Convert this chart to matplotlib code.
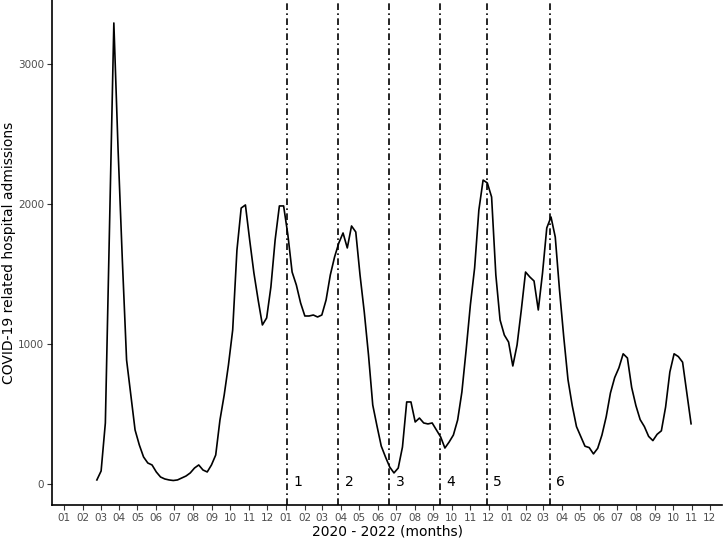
import pandas as pd
import numpy as np
import matplotlib.pyplot as plt
import matplotlib.dates as mdates

# weekly admissions, first week starting 2020-02-24
start_week = '2020-02-24'
admissions = [29, 93, 436, 1864, 3293, 2386, 1600, 886, 636, 386,
              279, 193, 150, 136, 86, 50, 36, 29, 25, 29,
              43, 57, 79, 114, 136, 100, 86, 136, 207, 457,
              636, 850, 1100, 1670, 1971, 1993, 1743, 1507, 1314, 1136,
              1186, 1407, 1743, 1986, 1986, 1780, 1514, 1421, 1293, 1200,
              1200, 1207, 1193, 1207, 1314, 1493, 1621, 1721, 1793, 1686,
              1843, 1800, 1493, 1229, 921, 564, 414, 271, 193, 121,
              79, 114, 264, 586, 586, 443, 471, 436, 429, 436,
              386, 336, 257, 300, 350, 457, 657, 957, 1279, 1543,
              1957, 2171, 2150, 2050, 1493, 1171, 1064, 1014, 843, 993,
              1243, 1514, 1479, 1450, 1243, 1507, 1829, 1907, 1764, 1386,
              1050, 745, 560, 410, 340, 270, 260, 215, 255, 350,
              480, 650, 760, 830, 930, 900, 690, 560, 460, 410,
              340, 310, 355, 380, 550, 800, 930, 910, 870, 650,
              430]

period_starts = ['2021-01-03', '2021-03-28', '2021-06-20',
                 '2021-09-12', '2021-11-28', '2022-03-12']
period_labels = ['1', '2', '3', '4', '5', '6']

dates = pd.date_range(start_week, periods=len(admissions), freq='7D')
months = pd.date_range('2020-01-01', '2022-12-01', freq='MS')

fig = plt.figure(figsize=(7.23, 5.38), dpi=100)
ax = fig.add_axes([52/723, 33/538, 670/723, 505/538])

ax.plot(dates, admissions, color='black', linewidth=1.2)

for d, lab in zip(period_starts, period_labels):
    d = pd.Timestamp(d)
    ax.axvline(d, color='black', linewidth=1.2, linestyle=(0, (4, 2, 1, 2)))
    ax.text(d + pd.Timedelta(days=11), 15, lab, ha='left', va='center', fontsize=10)

ax.set_xlim(pd.Timestamp('2019-12-12'), pd.Timestamp('2022-12-21'))
ax.set_ylim(-150, 3457)
ax.set_xticks(months)
ax.xaxis.set_major_formatter(mdates.DateFormatter('%m'))
ax.set_yticks([0, 1000, 2000, 3000])

ax.spines['top'].set_visible(False)
ax.spines['right'].set_visible(False)
ax.spines['left'].set_linewidth(1.2)
ax.spines['bottom'].set_linewidth(1.2)
ax.tick_params(axis='both', labelsize=7.5, labelcolor='#4d4d4d', color='#333333',
               length=3.5, width=0.8, pad=2)

ax.set_xlabel('2020 - 2022 (months)', fontsize=10, labelpad=1)
ax.set_ylabel('COVID-19 related hospital admissions', fontsize=10)
ax.yaxis.set_label_coords(-0.054, 0.5)

fig.savefig('out.png', dpi=100)
